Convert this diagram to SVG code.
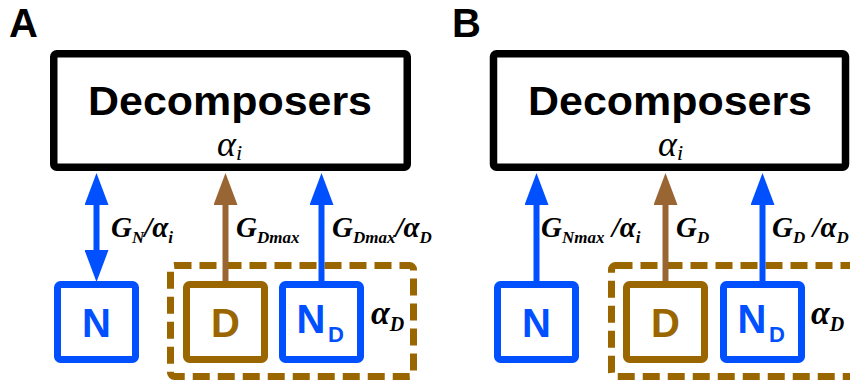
<svg xmlns="http://www.w3.org/2000/svg" width="850" height="385" viewBox="0 0 850 385">
<style>
.panel{font-family:"Liberation Sans",Arial,sans-serif;font-weight:bold;font-size:40px;fill:#000}
.title{font-family:"Liberation Sans",Arial,sans-serif;font-weight:bold;font-size:40px;fill:#000;text-anchor:middle}
.big{fill:#fff;stroke:#000;stroke-width:7.5}
.bN{fill:#fff;stroke:#0050ff;stroke-width:7}
.bD{fill:#fff;stroke:#996600;stroke-width:7}
.dash{fill:none;stroke:#996600;stroke-width:7;stroke-dasharray:17 8}
.ltr{font-family:"Liberation Sans",Arial,sans-serif;font-weight:bold;font-size:40px;text-anchor:middle}
.sub{font-size:22px}
.lab{font-family:"Liberation Serif","Times New Roman",serif;font-style:italic;font-weight:bold;font-size:29px;fill:#000}
.alpha{font-family:"Liberation Serif","Times New Roman",serif;font-style:italic;font-size:36px;fill:#000}
.s{font-size:17px}
.blue{stroke:#0050ff;stroke-width:6;fill:none}
.brown{stroke:#996633;stroke-width:6;fill:none}
</style>
<defs>
<marker id="hb" markerUnits="userSpaceOnUse" markerWidth="32" markerHeight="24" viewBox="0 0 32 24" refX="0" refY="12" orient="auto-start-reverse"><path d="M0,0 L32,12 L0,24 z" fill="#0050ff"/></marker>
<marker id="hr" markerUnits="userSpaceOnUse" markerWidth="32" markerHeight="24" viewBox="0 0 32 24" refX="0" refY="12" orient="auto"><path d="M0,0 L32,12 L0,24 z" fill="#996633"/></marker>
</defs>

<text class="panel" x="9" y="37">A</text>
<text class="panel" x="452" y="37">B</text>

<!-- Panel A -->
<g id="A-decomposers">
<rect class="big" x="53.75" y="53.75" width="353.5" height="113.5" rx="3"/>
<text class="title" x="230" y="115" textLength="284" lengthAdjust="spacingAndGlyphs">Decomposers</text>
<text class="alpha" x="217" y="156">α<tspan style="font-size:22px" dy="4">i</tspan></text>
</g>
<g id="A-dashed"><rect class="dash" x="170.5" y="265.5" width="243" height="111" rx="4"/>
<text class="lab" style="font-size:34px" x="371" y="324">α<tspan style="font-size:20px" dy="7">D</tspan></text></g>
<g id="A-N"><rect class="bN" x="57.5" y="284.5" width="78" height="75" rx="3"/><text class="ltr" fill="#0050ff" x="96.5" y="337">N</text></g>
<g id="A-D"><rect class="bD" x="186.5" y="284.5" width="78" height="75" rx="3"/><text class="ltr" fill="#996600" x="225.5" y="337">D</text></g>
<g id="A-ND"><rect class="bN" x="282.5" y="284.5" width="78" height="75" rx="3"/><text class="ltr" fill="#0050ff" x="311" y="333">N</text><text class="ltr sub" fill="#0050ff" x="336" y="342">D</text></g>

<!-- Panel B -->
<g id="B-decomposers">
<rect class="big" x="493.5" y="53.75" width="352" height="113.5" rx="3"/>
<text class="title" x="670" y="115" textLength="284" lengthAdjust="spacingAndGlyphs">Decomposers</text>
<text class="alpha" x="658" y="156">α<tspan style="font-size:22px" dy="4">i</tspan></text>
</g>
<g id="B-dashed"><rect class="dash" x="611.5" y="265.5" width="260" height="111" rx="4"/>
<text class="lab" style="font-size:34px" x="811" y="324">α<tspan style="font-size:20px" dy="7">D</tspan></text></g>
<g id="B-N"><rect class="bN" x="497.5" y="284.5" width="78" height="75" rx="3"/><text class="ltr" fill="#0050ff" x="536.5" y="337">N</text></g>
<g id="B-D"><rect class="bD" x="626.5" y="284.5" width="78" height="75" rx="3"/><text class="ltr" fill="#996600" x="665.5" y="337">D</text></g>
<g id="B-ND"><rect class="bN" x="723.5" y="284.5" width="78" height="75" rx="3"/><text class="ltr" fill="#0050ff" x="752" y="333">N</text><text class="ltr sub" fill="#0050ff" x="777" y="342">D</text></g>

<g id="connectors">
<line class="blue" x1="96.5" y1="205" x2="96.5" y2="250" marker-start="url(#hb)" marker-end="url(#hb)"/>
<line class="brown" x1="225.5" y1="281" x2="225.5" y2="205" marker-end="url(#hr)"/>
<line class="blue" x1="321.5" y1="281" x2="321.5" y2="205" marker-end="url(#hb)"/>
<line class="blue" x1="536.5" y1="281" x2="536.5" y2="205" marker-end="url(#hb)"/>
<line class="brown" x1="665.5" y1="281" x2="665.5" y2="205" marker-end="url(#hr)"/>
<line class="blue" x1="762.5" y1="281" x2="762.5" y2="205" marker-end="url(#hb)"/>
</g>

<g id="labels">
<text class="lab" x="111" y="237">G<tspan class="s" dy="6">N</tspan><tspan dy="-6">/α</tspan><tspan class="s" dy="6">i</tspan></text>
<text class="lab" x="236" y="237">G<tspan class="s" dy="6">Dmax</tspan></text>
<text class="lab" x="332" y="237">G<tspan class="s" dy="6">Dmax</tspan><tspan dy="-6">/α</tspan><tspan class="s" dy="6">D</tspan></text>
<text class="lab" x="541" y="237">G<tspan class="s" dy="6">Nmax</tspan><tspan dy="-6"> /α</tspan><tspan class="s" dy="6">i</tspan></text>
<text class="lab" x="676" y="237">G<tspan class="s" dy="6">D</tspan></text>
<text class="lab" x="772" y="237">G<tspan class="s" dy="6">D</tspan><tspan dy="-6"> /α</tspan><tspan class="s" dy="6">D</tspan></text>
</g>
</svg>
